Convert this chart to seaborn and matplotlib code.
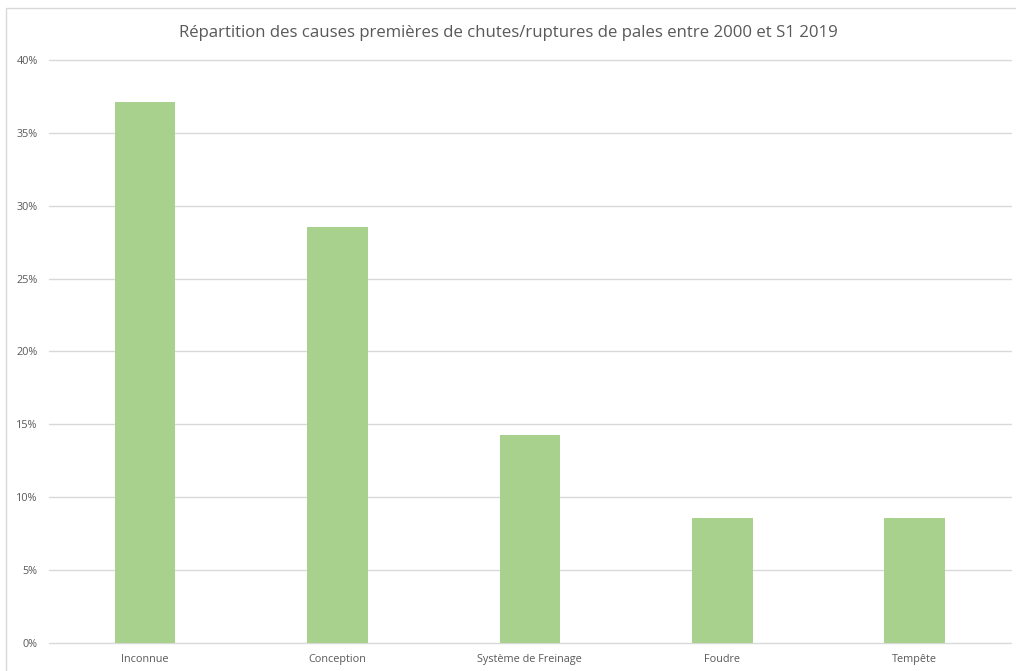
import matplotlib
matplotlib.use('Agg')
import matplotlib.pyplot as plt
import seaborn as sns
import pandas as pd
from matplotlib.ticker import PercentFormatter, MultipleLocator
from matplotlib.patches import Rectangle

# Data
causes = ['Inconnue', 'Conception', 'Système de Freinage', 'Foudre', 'Tempête']
shares = [0.3714, 0.2857, 0.1429, 0.0857, 0.0857]

df = pd.DataFrame({'Cause': causes, 'Part': shares})

sns.set_style('white')
plt.rcParams['font.family'] = ['Open Sans', 'DejaVu Sans']

fig = plt.figure(figsize=(10.16, 6.71), dpi=100)
ax = fig.add_axes([0.048, 0.0417, 0.947, 0.869])

# light frame around the chart
fig.patches.append(Rectangle((0.006, -0.01), 1.2, 0.998, transform=fig.transFigure,
                             fill=False, edgecolor='#d9d9d9', linewidth=1))

sns.barplot(data=df, x='Cause', y='Part', color='#a9d18e', width=0.315,
            saturation=1, linewidth=0, ax=ax)

ax.set_ylim(0, 0.40)
ax.set_xlim(-0.5, 4.5)
ax.yaxis.set_major_locator(MultipleLocator(0.05))
ax.yaxis.set_major_formatter(PercentFormatter(1.0, decimals=0))
ax.grid(axis='y', color='#d9d9d9', linewidth=1)
ax.set_axisbelow(True)
for g in ax.get_ygridlines():
    g.set_clip_on(False)
for s in ax.spines.values():
    s.set_visible(False)
ax.tick_params(axis='both', length=0, labelsize=7.8, colors='#595959', pad=8)
ax.set_xlabel('')
ax.set_ylabel('')

fig.text(0.5, 0.951, 'Répartition des causes premières de chutes/ruptures de pales entre 2000 et S1 2019',
         ha='center', va='center', fontsize=12.1, color='#595959')

fig.savefig('out.png', dpi=100)
